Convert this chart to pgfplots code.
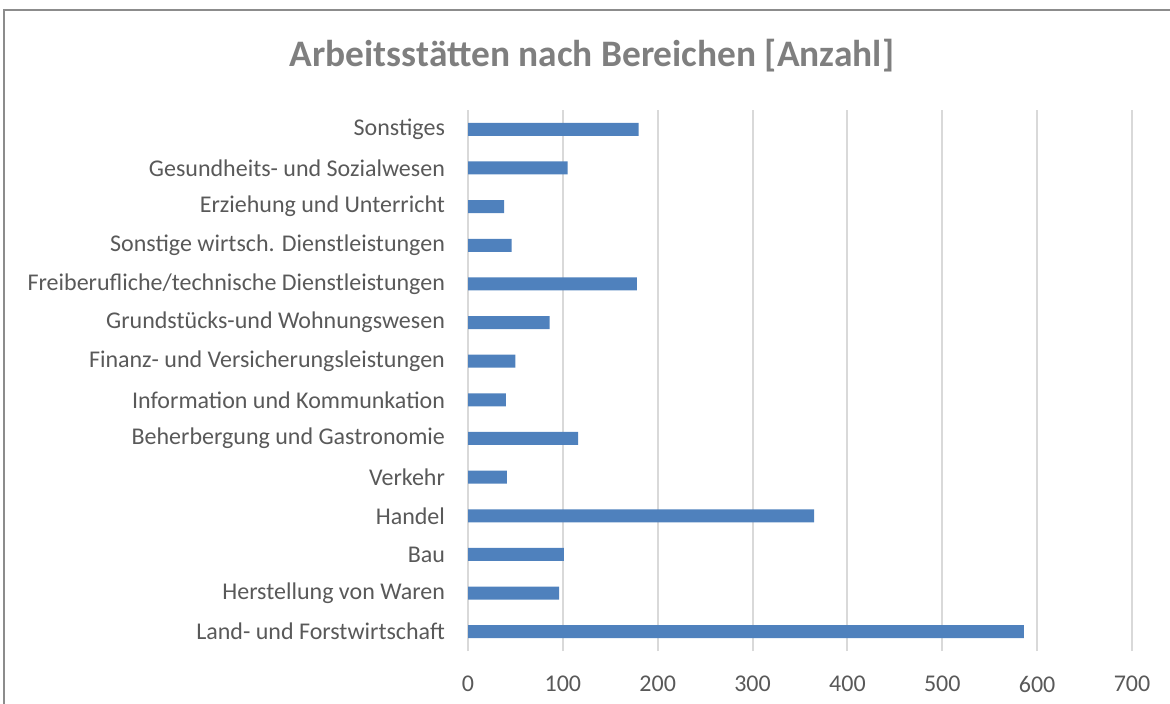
\documentclass[border=0pt]{standalone}
\usepackage{fontspec}
\setmainfont{Carlito}
\usepackage{pgfplots}
\pgfplotsset{compat=1.18}

\definecolor{barblue}{HTML}{4F81BD}
\definecolor{txtgray}{HTML}{595959}
\definecolor{titlegray}{HTML}{7F7F7F}
\definecolor{gridgray}{HTML}{D9D9D9}
\definecolor{framegray}{HTML}{8C8C8C}

\begin{document}
\begin{tikzpicture}
% 1 px of the reference = 0.5pt
\useasboundingbox (0,0) rectangle (585pt,-351.5pt);
\draw[framegray, line width=0.8pt] (2pt,-360pt) -- (2pt,-5pt) -- (600pt,-5pt);
\node[titlegray, font=\fontsize{18.7}{21}\selectfont\bfseries] at (296pt,-28pt)
  {Arbeitsstätten nach Bereichen [Anzahl]};
\begin{axis}[
    at={(234pt,-325.5pt)}, anchor=south west,
    scale only axis,
    width=332pt, height=270.5pt,
    xbar,
    bar width=6.5pt,
    xmin=0, xmax=700,
    ymin=-0.5, ymax=13.5,
    xtick={0,100,...,700},
    ytick={0,...,13},
    yticklabels={Land- und Forstwirtschaft, Herstellung von Waren, Bau, Handel, Verkehr,
      Beherbergung und Gastronomie, Information und Kommunkation,
      Finanz- und Versicherungsleistungen, Grundstücks-und Wohnungswesen,
      Freiberufliche/technische Dienstleistungen, Sonstige wirtsch. Dienstleistungen,
      Erziehung und Unterricht, Gesundheits- und Sozialwesen, Sonstiges},
    xmajorgrids,
    grid style={gridgray, line width=1pt},
    axis line style={draw=none},
    major tick length=0pt,
    tick label style={txtgray, font=\fontsize{12}{14}\selectfont},
    /pgf/number format/assume math mode=true,
    xticklabel style={yshift=-9pt},
    yticklabel style={xshift=-8pt},
]
\addplot[fill=barblue, draw=none] coordinates {
    (586,0) (96,1) (101,2) (365,3) (41,4) (116,5) (40,6)
    (50,7) (86,8) (178,9) (46,10) (38,11) (105,12) (180,13)
};
\end{axis}
\end{tikzpicture}
\end{document}
